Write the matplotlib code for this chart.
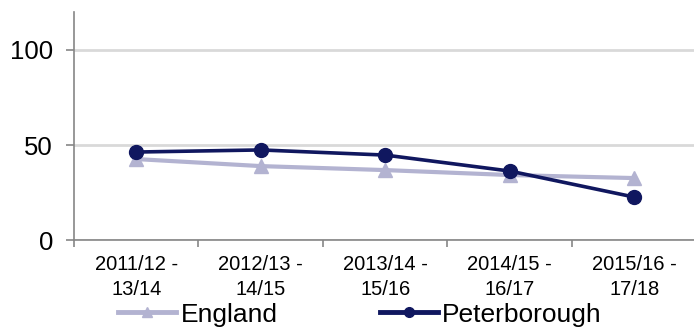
import numpy as np
import matplotlib.pyplot as plt
from matplotlib.lines import Line2D

plt.rcParams['font.family'] = ['Liberation Sans', 'DejaVu Sans']

# Data
periods = ['2011/12 -\n13/14', '2012/13 -\n14/15', '2013/14 -\n15/16',
           '2014/15 -\n16/17', '2015/16 -\n17/18']
england = [42.6, 38.9, 36.8, 34.2, 32.6]
peterborough = [46.3, 47.4, 44.7, 36.3, 22.6]

eng_col = '#b3b3d1'
pet_col = '#10175f'

x = np.arange(len(periods))

fig = plt.figure(figsize=(6.94, 3.32), dpi=100)
ax = fig.add_axes([0.1066, 0.277, 0.897, 0.687])

ax.plot(x, england, color=eng_col, lw=3, marker='^', ms=10, zorder=3)
ax.plot(x, peterborough, color=pet_col, lw=2.6, marker='o', ms=10, zorder=4)

ax.set_xlim(-0.5, 4.5)
ax.set_ylim(0, 120)
ax.set_yticks([0, 50, 100])
ax.yaxis.grid(True, color='#d9d9d9', lw=2)
ax.set_axisbelow(True)

ax.set_xticks(x)
ax.set_xticklabels(periods, fontsize=14.5, linespacing=1.35)
ax.set_xticks(np.arange(-0.5, 5, 1), minor=True)
ax.tick_params(axis='x', which='major', length=0, pad=11)
ax.tick_params(axis='x', which='minor', length=5, color='#868686', width=1.2)
ax.tick_params(axis='y', length=6, color='#868686', width=1.2,
               labelsize=18.5, pad=9)

for side in ['top', 'right']:
    ax.spines[side].set_visible(False)
for side in ['left', 'bottom']:
    ax.spines[side].set_color('#868686')
    ax.spines[side].set_linewidth(1.2)

# legend with smaller markers than the plotted series
handles = [Line2D([], [], color=eng_col, lw=3.5, marker='^', ms=7),
           Line2D([], [], color=pet_col, lw=3.5, marker='o', ms=7)]
fig.legend(handles, ['England', 'Peterborough'], loc='lower center',
           bbox_to_anchor=(0.519, -0.055), ncol=2, frameon=False,
           fontsize=19, handlelength=2.2, handletextpad=0.15,
           columnspacing=3.9)

fig.savefig('out.png', dpi=100)
